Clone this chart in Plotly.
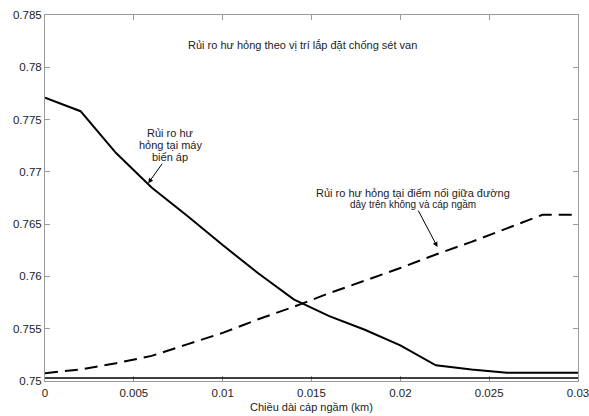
import plotly.graph_objects as go

# Underground cable length (km)
cable_length = [0.000, 0.002, 0.004, 0.006, 0.008, 0.010, 0.012, 0.014,
                0.016, 0.018, 0.020, 0.022, 0.024, 0.026, 0.028, 0.030]

# Failure risk at the transformer
risk_transformer = [0.7771, 0.7758, 0.7718, 0.7685, 0.7658, 0.7630, 0.7603, 0.7578,
                    0.7562, 0.7549, 0.7534, 0.7515, 0.7511, 0.7508, 0.7508, 0.7508]

# Failure risk at the overhead line / underground cable junction
risk_junction = [0.75075, 0.7511, 0.7517, 0.7524, 0.7535, 0.7546, 0.7559, 0.7571,
                 0.7584, 0.7596, 0.7608, 0.7621, 0.7633, 0.7646, 0.7659, 0.7659]

x_tickvals = [0, 0.005, 0.01, 0.015, 0.02, 0.025, 0.03]
x_ticktext = ["0", "0.005", "0.01", "0.015", "0.02", "0.025", "0.03"]
y_tickvals = [0.75, 0.755, 0.76, 0.765, 0.77, 0.775, 0.78, 0.785]
y_ticktext = ["0.75", "0.755", "0.76", "0.765", "0.77", "0.775", "0.78", "0.785"]

FONT = "Liberation Sans, Arial, sans-serif"
TXT = "#222222"
FRAME = "#9a9a9a"

fig = go.Figure()
fig.add_trace(go.Scatter(x=cable_length, y=risk_transformer, mode="lines",
                         line=dict(color="black", width=2), showlegend=False))
fig.add_trace(go.Scatter(x=cable_length, y=risk_junction, mode="lines",
                         line=dict(color="black", width=2, dash="13px,7px"),
                         showlegend=False))

ann = []
def label(x, y, text, size=11):
    ann.append(dict(x=x, y=y, xref="x", yref="y", text=text, showarrow=False,
                    font=dict(family=FONT, size=size, color=TXT),
                    xanchor="center", yanchor="middle"))

def arrow(x, y, ax, ay):
    ann.append(dict(x=x, y=y, xref="x", yref="y", text="", showarrow=True,
                    ax=ax, ay=ay, arrowhead=2, arrowsize=1, arrowwidth=1,
                    arrowcolor="black"))

label(0.01452, 0.78213, "Rủi ro hư hỏng theo vị trí lắp đặt chống sét van")
label(0.00704, 0.77372, "Rủi ro hư")
label(0.00704, 0.77257, "hỏng tại máy")
label(0.00704, 0.77142, "biến áp")
arrow(0.00581, 0.76891, 15, -21)
label(0.02074, 0.76795, "Rủi ro hư hỏng tại điểm nối giữa đường")
label(0.02074, 0.76690, "dây trên không và cáp ngầm", size=10)
arrow(0.02209, 0.76281, -20, -38)

fig.update_layout(
    width=589, height=416,
    margin=dict(l=45, r=11, t=15, b=35),
    plot_bgcolor="white", paper_bgcolor="white",
    font=dict(family=FONT, size=11, color=TXT),
    annotations=ann,
    shapes=[dict(type="line", xref="paper", yref="paper", x0=0, x1=1,
                 y0=0.008, y1=0.008, line=dict(color="black", width=1.5),
                 layer="above")],
)
fig.update_xaxes(range=[0, 0.03], tickvals=x_tickvals, ticktext=x_ticktext,
                 showgrid=False, zeroline=False, showline=True, linecolor=FRAME,
                 linewidth=1, mirror="ticks", ticks="inside", ticklen=5,
                 tickcolor=FRAME, ticklabelstandoff=1, automargin=False,
                 ticklabeloverflow="allow",
                 tickfont=dict(family=FONT, size=11.5, color=TXT),
                 title=dict(text="Chiều dài cáp ngầm (km)", standoff=5,
                            font=dict(family=FONT, size=11, color=TXT)))
fig.update_yaxes(range=[0.75, 0.785], tickvals=y_tickvals, ticktext=y_ticktext,
                 showgrid=False, zeroline=False, showline=True, linecolor=FRAME,
                 linewidth=1, mirror="ticks", ticks="inside", ticklen=5,
                 tickcolor=FRAME, automargin=False, ticklabeloverflow="allow",
                 tickfont=dict(family=FONT, size=11.5, color=TXT))

fig.write_html("out.html")
